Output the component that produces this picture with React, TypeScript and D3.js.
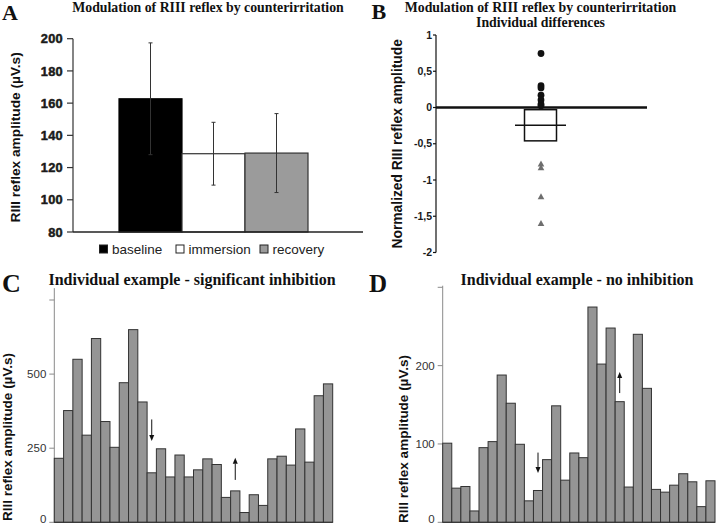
import React from 'react';
import * as d3 from 'd3';

// ---------- Panel A data ----------
const categoriesA = ['baseline', 'immersion', 'recovery'];
const meansA = [162.7, 128.6, 129.0];
const errorsA = [34.7, 19.5, 24.5];
const ticksA = [80, 100, 120, 140, 160, 180, 200];
const fillsA = ['#000000', '#ffffff', '#9b9b9b'];

// ---------- Panel B data ----------
const increasesB = [0.745, 0.3, 0.27, 0.17, 0.105, 0.047, 0.025];
const decreasesB = [-0.78, -0.83, -1.23, -1.6];
const meanB = -0.245;
const semB = 0.215;
const ticksB = [1, 0.5, 0, -0.5, -1, -1.5, -2];
const tickLabelsB = ['1', '0,5', '0', '-0,5', '-1', '-1,5', '-2'];

// ---------- Panel C data ----------
const valuesC = [216, 377, 550, 294, 620, 340, 253, 471, 650, 406, 167, 248, 153, 227, 153,
  177, 214, 195, 84, 106, 33, 93, 57, 214, 223, 193, 315, 203, 427, 467];
const ticksC = [0, 250, 500, 750];
const tickLabelsC = ['0', '250', '500', ''];
const arrowsC = [{ bar: 10, from: 347, to: 274 }, { bar: 19, from: 143, to: 218 }];

// ---------- Panel D data ----------
const valuesD = [101, 43.6, 45.7, 14.5, 95.3, 103, 188, 152, 99.6, 27.4, 40.6, 80, 148.7, 53.8, 88.5,
  82.5, 274.8, 202, 248, 154, 45, 240, 171, 42, 38.5, 47.4, 62, 51.7, 20, 53];
const ticksD = [0, 100, 200, 300];
const tickLabelsD = ['0', '100', '200', ''];
const arrowsD = [{ bar: 10, from: 89, to: 63 }, { bar: 19, from: 165, to: 192 }];

const SANS = '"Liberation Sans", Arial, sans-serif';
const SERIF = '"Liberation Serif", "Times New Roman", serif';

function Arrow({ x, y1, y2 }: { x: number; y1: number; y2: number }) {
  const dir = y2 > y1 ? 1 : -1;
  const head = 6;
  return (
    <g>
      <line x1={x} x2={x} y1={y1} y2={y2 - dir * head} stroke="#111" strokeWidth={1} />
      <polygon
        points={`${x},${y2} ${x - 2.5},${y2 - dir * head} ${x + 2.5},${y2 - dir * head}`}
        fill="#111"
      />
    </g>
  );
}

function BarSeries({ values, ticks, tickLabels, arrows, xRange, yDomain, yRange, axisTop }: any) {
  const x = d3.scaleBand<number>(d3.range(values.length), xRange).padding(0);
  const y = d3.scaleLinear(yDomain, yRange);
  const x0 = xRange[0];
  return (
    <g>
      <line x1={x0} x2={x0} y1={y(0)} y2={y(axisTop)} stroke="#8a8a8a" strokeWidth={1} />
      {ticks.map((t: number, i: number) => (
        <g key={t}>
          <line x1={x0 - 5} x2={x0} y1={y(t)} y2={y(t)} stroke="#8a8a8a" strokeWidth={1} />
          <text x={x0 - 8} y={Math.min(y(t), 519)} dy="0.35em" textAnchor="end" fontFamily={SANS}
            fontSize={11.5} fill="#333">{tickLabels[i]}</text>
        </g>
      ))}
      {values.map((v: number, i: number) => (
        <rect key={i} x={x(i)!} y={y(v)} width={x.bandwidth()} height={y(0) - y(v)}
          fill="#959595" stroke="#333" strokeWidth={1} />
      ))}
      <line x1={x0} x2={xRange[1]} y1={y(0)} y2={y(0)} stroke="#333" strokeWidth={1} />
      {arrows.map((a: any, i: number) => (
        <Arrow key={i} x={x(a.bar)! + x.bandwidth() / 2} y1={y(a.from)} y2={y(a.to)} />
      ))}
    </g>
  );
}

export default function App() {
  // Panel A scales
  const yA = d3.scaleLinear([80, 200], [232, 38.7]);
  const xA = d3.scaleBand(categoriesA, [119, 308]).padding(0);
  // Panel B scale
  const yB = d3.scaleLinear([-2, 1], [252.5, 35]);
  const xBc = 541;

  const legendX = [99.5, 176, 260];

  return (
    <svg width={720} height={524} style={{ position: 'absolute', left: 0, top: 0, background: '#fff' }}>
      <rect x={0} y={0} width={720} height={524} fill="#fff" />

      {/* ---------------- Panel A ---------------- */}
      <text x={2} y={19.5} fontFamily={SERIF} fontWeight="bold" fontSize={22} fill="#111">A</text>
      <text x={208} y={12} textAnchor="middle" fontFamily={SERIF} fontWeight="bold" fontSize={13.8} fill="#111">
        Modulation of RIII reflex by counterirritation
      </text>
      <text transform={`translate(15.5,${(yA(80) + yA(200)) / 2 + 2}) rotate(-90)`} textAnchor="middle"
        dy="0.35em" fontFamily={SANS} fontWeight="bold" fontSize={13.7} fill="#111">
        RIII reflex amplitude (µV.s)
      </text>
      {ticksA.map((t) => (
        <g key={t}>
          <line x1={67} x2={73} y1={yA(t)} y2={yA(t)} stroke="#333" strokeWidth={1.2} />
          <text x={63} y={yA(t)} dy="0.36em" textAnchor="end" fontFamily={SANS} fontWeight="bold"
            fontSize={12.8} fill="#1a1a1a" stroke="#1a1a1a" strokeWidth={0.5}
            style={{ letterSpacing: '0.3px' }}>{t}</text>
        </g>
      ))}
      {categoriesA.map((c, i) => (
        <rect key={c} x={xA(c)!} y={yA(meansA[i])} width={xA.bandwidth()} height={yA(80) - yA(meansA[i])}
          fill={fillsA[i]} stroke={i === 0 ? '#000' : '#333'} strokeWidth={1.2} />
      ))}
      {categoriesA.map((c, i) => {
        const cx = xA(c)! + xA.bandwidth() / 2;
        const top = yA(meansA[i] + errorsA[i]);
        const bot = yA(meansA[i] - errorsA[i]);
        return (
          <g key={c}>
            <line x1={cx} x2={cx} y1={top} y2={bot} stroke="#333" strokeWidth={1} />
            <line x1={cx - 2} x2={cx + 2} y1={top} y2={top} stroke="#333" strokeWidth={1} />
            <line x1={cx - 2} x2={cx + 2} y1={bot} y2={bot} stroke="#333" strokeWidth={1} />
          </g>
        );
      })}
      <line x1={73} x2={73} y1={yA(80)} y2={yA(200)} stroke="#333" strokeWidth={1.2} />
      <line x1={73} x2={363} y1={yA(80)} y2={yA(80)} stroke="#222" strokeWidth={1.5} />
      {categoriesA.map((c, i) => (
        <g key={c}>
          <rect x={legendX[i]} y={245} width={8} height={8} fill={fillsA[i]} stroke="#222" strokeWidth={1} />
          <text x={legendX[i] + 12.5} y={249} dy="0.36em" fontFamily={SANS} fontSize={13.5} fill="#222">{c}</text>
        </g>
      ))}

      {/* ---------------- Panel B ---------------- */}
      <text x={371.5} y={18.5} fontFamily={SERIF} fontWeight="bold" fontSize={22} fill="#111">B</text>
      <text x={540.5} y={12} textAnchor="middle" fontFamily={SERIF} fontWeight="bold" fontSize={13.8} fill="#111">
        Modulation of RIII reflex by counterirritation
      </text>
      <text x={540.5} y={27} textAnchor="middle" fontFamily={SERIF} fontWeight="bold" fontSize={13.8} fill="#111">
        Individual differences
      </text>
      <text transform={`translate(397,${(yB(-2) + yB(1)) / 2}) rotate(-90)`} textAnchor="middle"
        dy="0.35em" fontFamily={SANS} fontWeight="bold" fontSize={13.8} fill="#111">
        Normalized RIII reflex amplitude
      </text>
      <line x1={436} x2={436} y1={yB(-2)} y2={yB(1)} stroke="#111" strokeWidth={1.2} />
      {ticksB.map((t, i) => (
        <g key={t}>
          <line x1={433} x2={436} y1={yB(t)} y2={yB(t)} stroke="#111" strokeWidth={1.2} />
          <text x={432} y={yB(t)} dy="0.35em" textAnchor="end" fontFamily={SANS} fontWeight="bold"
            fontSize={10.5} fill="#1a1a1a">{tickLabelsB[i]}</text>
        </g>
      ))}
      <rect x={xBc - 16.5} y={yB(meanB + semB)} width={32} height={yB(meanB - semB) - yB(meanB + semB)}
        fill="#fff" stroke="#111" strokeWidth={1.5} />
      <line x1={xBc - 26} x2={xBc + 25} y1={yB(meanB)} y2={yB(meanB)} stroke="#111" strokeWidth={1.5} />
      <line x1={436} x2={647} y1={yB(0)} y2={yB(0)} stroke="#111" strokeWidth={2.5} />
      {increasesB.map((v, i) => (
        <circle key={i} cx={xBc} cy={yB(v)} r={3.4} fill="#111" />
      ))}
      {decreasesB.map((v, i) => {
        const cy = yB(v);
        return (
          <polygon key={i} points={`${xBc},${cy - 3.5} ${xBc - 3.3},${cy + 2.5} ${xBc + 3.3},${cy + 2.5}`}
            fill="#6e6e6e" />
        );
      })}

      {/* ---------------- Panel C ---------------- */}
      <text x={2} y={292} fontFamily={SERIF} fontWeight="bold" fontSize={26} fill="#111">C</text>
      <text x={192} y={285} textAnchor="middle" fontFamily={SERIF} fontWeight="bold" fontSize={16} fill="#111">
        Individual example - significant inhibition
      </text>
      <text transform="translate(7.5,437) rotate(-90)" textAnchor="middle" dy="0.35em"
        fontFamily={SANS} fontWeight="bold" fontSize={13.5} fill="#111">
        RIII reflex amplitude (µV.s)
      </text>
      <BarSeries values={valuesC} ticks={ticksC} tickLabels={tickLabelsC} arrows={arrowsC}
        xRange={[54.3, 332.7]} yDomain={[0, 750]} yRange={[522.3, 300]} axisTop={790} />

      {/* ---------------- Panel D ---------------- */}
      <text x={369} y={292} fontFamily={SERIF} fontWeight="bold" fontSize={25} fill="#111">D</text>
      <text x={577} y={285} textAnchor="middle" fontFamily={SERIF} fontWeight="bold" fontSize={16} fill="#111">
        Individual example - no inhibition
      </text>
      <text transform="translate(403,439) rotate(-90)" textAnchor="middle" dy="0.35em"
        fontFamily={SANS} fontWeight="bold" fontSize={13.5} fill="#111">
        RIII reflex amplitude (µV.s)
      </text>
      <BarSeries values={valuesD} ticks={ticksD} tickLabels={tickLabelsD} arrows={arrowsD}
        xRange={[442.7, 715]} yDomain={[0, 300]} yRange={[522.3, 287.3]} axisTop={302} />
    </svg>
  );
}
